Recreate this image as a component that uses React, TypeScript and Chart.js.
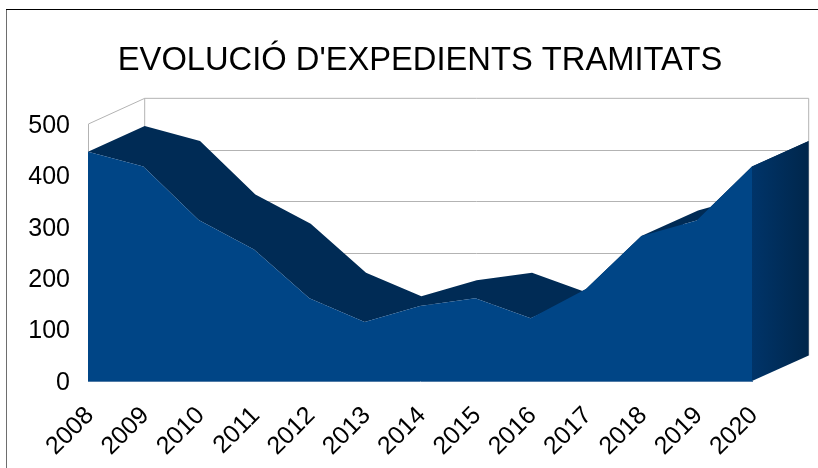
import React, { useEffect, useRef } from "react";
import { Chart, registerables } from "chart.js";

Chart.register(...registerables);

const years = ["2008","2009","2010","2011","2012","2013","2014","2015","2016","2017","2018","2019","2020"];
const expedients = [446, 417, 313, 256, 161, 115, 146, 161, 122, 179, 282, 312, 417];
const titleText = "EVOLUCIÓ D'EXPEDIENTS TRAMITATS";

const DEPTH_X = 56.7;
const DEPTH_Y = 25.6;
const FRONT = "#004586";
const SIDE = "#002b55";
const WALL = "#b3b3b3";

const depthPlugin = {
  id: "depth",
  beforeDatasetsDraw(chart: any) {
    const { ctx, scales } = chart;
    const x = scales.x, y = scales.y;
    const x0 = x.getPixelForValue(0);
    const x1 = x.getPixelForValue(years.length - 1);
    const yBase = y.getPixelForValue(0);
    const yMax = y.getPixelForValue(500);
    const px = expedients.map((_, i) => x.getPixelForValue(i));
    const py = expedients.map((v) => y.getPixelForValue(v));

    ctx.save();
    // frame of the sheet
    ctx.lineWidth = 1;
    ctx.strokeStyle = "#6e6e6e";
    ctx.beginPath();
    ctx.moveTo(6.5, 9);
    ctx.lineTo(6.5, 468);
    ctx.stroke();
    ctx.strokeStyle = "#000000";
    ctx.beginPath();
    ctx.moveTo(6, 9.5);
    ctx.lineTo(818, 9.5);
    ctx.stroke();

    // walls
    ctx.strokeStyle = WALL;
    ctx.beginPath();
    ctx.moveTo(x0 + 0.5, yBase);
    ctx.lineTo(x0 + 0.5, yMax);
    ctx.lineTo(x0 + DEPTH_X, yMax - DEPTH_Y);
    ctx.lineTo(x1 + DEPTH_X, yMax - DEPTH_Y);
    ctx.lineTo(x1 + DEPTH_X, yBase - DEPTH_Y);
    ctx.moveTo(x0 + DEPTH_X, yMax - DEPTH_Y);
    ctx.lineTo(x0 + DEPTH_X, yBase - DEPTH_Y);
    ctx.stroke();
    ctx.beginPath();
    for (const tick of y.ticks) {
      if (tick.value === 0 || tick.value === 500) continue;
      const gy = Math.round(y.getPixelForValue(tick.value) - DEPTH_Y) + 0.5;
      ctx.moveTo(x0 + DEPTH_X, gy);
      ctx.lineTo(x1 + DEPTH_X, gy);
    }
    ctx.stroke();

    // extruded top surface: one path, every quad wound the same way, so no seams
    ctx.fillStyle = SIDE;
    ctx.beginPath();
    for (let i = 0; i < px.length - 1; i++) {
      const dx = px[i + 1] - px[i];
      const dy = py[i + 1] - py[i];
      const cross = dx * -DEPTH_Y - dy * DEPTH_X;
      const a = cross > 0 ? i : i + 1;
      const b = cross > 0 ? i + 1 : i;
      ctx.moveTo(px[a], py[a]);
      ctx.lineTo(px[b], py[b]);
      ctx.lineTo(px[b] + DEPTH_X, py[b] - DEPTH_Y);
      ctx.lineTo(px[a] + DEPTH_X, py[a] - DEPTH_Y);
      ctx.closePath();
    }
    ctx.fill("nonzero");

    // right side
    const last = py[py.length - 1];
    const grad = ctx.createLinearGradient(x1, 0, x1 + DEPTH_X, 0);
    grad.addColorStop(0, "#003469");
    grad.addColorStop(1, "#00264b");
    ctx.fillStyle = grad;
    ctx.beginPath();
    ctx.moveTo(x1, yBase);
    ctx.lineTo(x1 + DEPTH_X, yBase - DEPTH_Y);
    ctx.lineTo(x1 + DEPTH_X, last - DEPTH_Y);
    ctx.lineTo(x1, last);
    ctx.closePath();
    ctx.fill();
    ctx.restore();
  },
};

export default function App() {
  const ref = useRef<HTMLCanvasElement>(null);
  useEffect(() => {
    const chart = new Chart(ref.current as HTMLCanvasElement, {
      type: "line",
      data: {
        labels: years,
        datasets: [
          {
            data: expedients,
            borderWidth: 0,
            borderColor: FRONT,
            backgroundColor: FRONT,
            fill: "origin",
            pointRadius: 0,
            tension: 0,
          },
        ],
      },
      plugins: [depthPlugin],
      options: {
        animation: false,
        responsive: false,
        layout: { padding: { left: 0, right: 66, top: 0, bottom: 0 } },
        plugins: {
          legend: { display: false },
          tooltip: { enabled: false },
          title: {
            display: true,
            text: titleText,
            fullSize: false,
            color: "#000000",
            font: { family: "'Liberation Sans'", size: 32.7, weight: "normal" },
            padding: { top: 41, bottom: 43.7 },
          },
        },
        scales: {
          x: {
            offset: false,
            grid: { display: false },
            border: { display: true, color: "#4f7aa6", width: 1 },
            afterFit(s: any) { s.height = 87; },
            ticks: {
              color: "#000000",
              font: { family: "'Liberation Sans'", size: 25 },
              minRotation: 45,
              maxRotation: 45,
              autoSkip: false,
              padding: 12,
              labelOffset: 2,
            },
          },
          y: {
            min: 0,
            max: 500,
            afterFit(s: any) { s.width = 88; },
            grid: { display: false },
            border: { display: false },
            ticks: {
              stepSize: 100,
              color: "#000000",
              font: { family: "'Liberation Sans'", size: 25 },
              padding: 10,
              labelOffset: 2,
            },
          },
        },
      } as any,
    });
    return () => chart.destroy();
  }, []);
  return (
    <div style={{ position: "fixed", left: 0, top: 0, width: 818, height: 468, background: "#ffffff" }}>
      <canvas ref={ref} width={818} height={468} style={{ display: "block" }} />
    </div>
  );
}
